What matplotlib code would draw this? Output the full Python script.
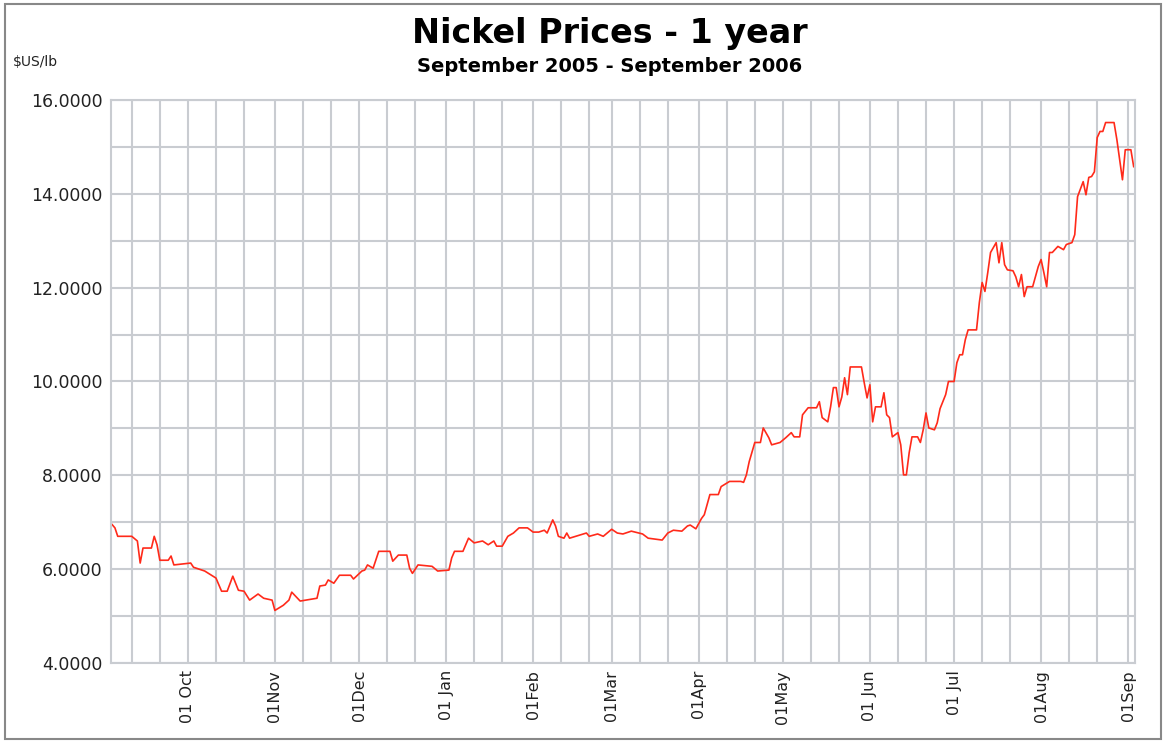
import matplotlib
matplotlib.use("Agg")
import matplotlib.pyplot as plt
import matplotlib.dates as mdates
import pandas as pd
from matplotlib.patches import Rectangle

# nickel price readings, $US/lb
dates = [
    "2005-09-04", "2005-09-05", "2005-09-06", "2005-09-11", "2005-09-13", "2005-09-14",
    "2005-09-15", "2005-09-18", "2005-09-19", "2005-09-20", "2005-09-21", "2005-09-24",
    "2005-09-25", "2005-09-26", "2005-10-02", "2005-10-03", "2005-10-07", "2005-10-11",
    "2005-10-13", "2005-10-15", "2005-10-17", "2005-10-19", "2005-10-21", "2005-10-23",
    "2005-10-26", "2005-10-28", "2005-10-31", "2005-11-01", "2005-11-04", "2005-11-06",
    "2005-11-07", "2005-11-10", "2005-11-16", "2005-11-17", "2005-11-19", "2005-11-20",
    "2005-11-22", "2005-11-24", "2005-11-28", "2005-11-29", "2005-12-02", "2005-12-03",
    "2005-12-04", "2005-12-06", "2005-12-08", "2005-12-12", "2005-12-13", "2005-12-15",
    "2005-12-18", "2005-12-19", "2005-12-20", "2005-12-22", "2005-12-27", "2005-12-29",
    "2006-01-02", "2006-01-03", "2006-01-04", "2006-01-07", "2006-01-09", "2006-01-11",
    "2006-01-14", "2006-01-16", "2006-01-18", "2006-01-19", "2006-01-21", "2006-01-23",
    "2006-01-25", "2006-01-27", "2006-01-30", "2006-02-01", "2006-02-03", "2006-02-05",
    "2006-02-06", "2006-02-08", "2006-02-09", "2006-02-10", "2006-02-12", "2006-02-13",
    "2006-02-14", "2006-02-20", "2006-02-21", "2006-02-24", "2006-02-26", "2006-03-01",
    "2006-03-03", "2006-03-05", "2006-03-08", "2006-03-12", "2006-03-14", "2006-03-19",
    "2006-03-21", "2006-03-23", "2006-03-26", "2006-03-28", "2006-03-29", "2006-03-31",
    "2006-04-02", "2006-04-03", "2006-04-05", "2006-04-08", "2006-04-09", "2006-04-12",
    "2006-04-16", "2006-04-17", "2006-04-18", "2006-04-19", "2006-04-21", "2006-04-23",
    "2006-04-24", "2006-04-26", "2006-04-27", "2006-04-30", "2006-05-02", "2006-05-04",
    "2006-05-05", "2006-05-07", "2006-05-08", "2006-05-10", "2006-05-13", "2006-05-14",
    "2006-05-15", "2006-05-17", "2006-05-18", "2006-05-19", "2006-05-20", "2006-05-21",
    "2006-05-22", "2006-05-23", "2006-05-24", "2006-05-25", "2006-05-29", "2006-05-30",
    "2006-05-31", "2006-06-01", "2006-06-02", "2006-06-03", "2006-06-05", "2006-06-06",
    "2006-06-07", "2006-06-08", "2006-06-09", "2006-06-11", "2006-06-12", "2006-06-13",
    "2006-06-14", "2006-06-15", "2006-06-16", "2006-06-18", "2006-06-19", "2006-06-20",
    "2006-06-21", "2006-06-22", "2006-06-24", "2006-06-25", "2006-06-26", "2006-06-28",
    "2006-06-29", "2006-07-01", "2006-07-02", "2006-07-03", "2006-07-04", "2006-07-05",
    "2006-07-06", "2006-07-09", "2006-07-10", "2006-07-11", "2006-07-12", "2006-07-13",
    "2006-07-14", "2006-07-16", "2006-07-17", "2006-07-18", "2006-07-19", "2006-07-20",
    "2006-07-22", "2006-07-23", "2006-07-24", "2006-07-25", "2006-07-26", "2006-07-27",
    "2006-07-29", "2006-07-31", "2006-08-01", "2006-08-02", "2006-08-03", "2006-08-04",
    "2006-08-05", "2006-08-07", "2006-08-09", "2006-08-10", "2006-08-12", "2006-08-13",
    "2006-08-14", "2006-08-16", "2006-08-17", "2006-08-18", "2006-08-19", "2006-08-20",
    "2006-08-21", "2006-08-22", "2006-08-23", "2006-08-24", "2006-08-27", "2006-08-28",
    "2006-08-29", "2006-08-30", "2006-08-31", "2006-09-02", "2006-09-03",
]
prices = [
    6.95, 6.88, 6.70, 6.70, 6.60, 6.13,
    6.45, 6.45, 6.70, 6.52, 6.19, 6.19,
    6.28, 6.09, 6.13, 6.04, 5.96, 5.81,
    5.53, 5.53, 5.85, 5.55, 5.53, 5.34,
    5.47, 5.38, 5.34, 5.12, 5.23, 5.34,
    5.51, 5.32, 5.38, 5.64, 5.66, 5.77,
    5.70, 5.87, 5.87, 5.79, 5.96, 5.98,
    6.09, 6.02, 6.38, 6.38, 6.17, 6.30,
    6.30, 6.02, 5.91, 6.09, 6.06, 5.96,
    5.98, 6.24, 6.38, 6.38, 6.66, 6.56,
    6.60, 6.52, 6.60, 6.49, 6.49, 6.70,
    6.77, 6.88, 6.88, 6.79, 6.79, 6.83,
    6.77, 7.05, 6.92, 6.70, 6.66, 6.77,
    6.66, 6.77, 6.70, 6.75, 6.70, 6.85,
    6.77, 6.75, 6.81, 6.75, 6.66, 6.62,
    6.77, 6.83, 6.81, 6.92, 6.94, 6.86,
    7.08, 7.16, 7.59, 7.59, 7.76, 7.87,
    7.87, 7.85, 8.01, 8.29, 8.70, 8.70,
    9.01, 8.80, 8.65, 8.70, 8.80, 8.91,
    8.82, 8.82, 9.29, 9.44, 9.44, 9.57,
    9.23, 9.14, 9.46, 9.87, 9.87, 9.46,
    9.67, 10.08, 9.72, 10.31, 10.31, 9.97,
    9.65, 9.93, 9.14, 9.46, 9.46, 9.76,
    9.29, 9.23, 8.82, 8.91, 8.65, 8.01,
    8.01, 8.48, 8.82, 8.82, 8.70, 8.97,
    9.33, 9.01, 8.97, 9.12, 9.42, 9.72,
    10.00, 10.00, 10.40, 10.57, 10.57, 10.89,
    11.10, 11.10, 11.68, 12.11, 11.92, 12.32,
    12.75, 12.96, 12.53, 12.96, 12.49, 12.38,
    12.36, 12.23, 12.02, 12.28, 11.81, 12.02,
    12.02, 12.45, 12.60, 12.32, 12.02, 12.75,
    12.75, 12.88, 12.81, 12.92, 12.96, 13.13,
    13.94, 14.26, 13.98, 14.35, 14.37, 14.47,
    15.20, 15.33, 15.33, 15.52, 15.52, 15.16,
    14.73, 14.30, 14.94, 14.94, 14.58,
]

y_ticks = [4, 6, 8, 10, 12, 14, 16]
month_ticks = ["2005-10-01", "2005-11-01", "2005-12-01", "2006-01-01", "2006-02-01",
               "2006-03-01", "2006-04-01", "2006-05-01", "2006-06-01", "2006-07-01",
               "2006-08-01", "2006-09-01"]
month_labels = ["01 Oct", "01Nov", "01Dec", "01 Jan", "01Feb", "01Mar", "01Apr",
                "01May", "01 Jun", "01 Jul", "01Aug", "01Sep"]

grid_col = "#c9ccd1"

fig = plt.figure(figsize=(11.63, 7.42), dpi=100)
ax = fig.add_axes([0.0954, 0.1065, 0.8806, 0.7587])

x = pd.to_datetime(dates)
ax.plot(x, prices, color="#ff2a1a", linewidth=1.2)

ax.set_xlim(pd.Timestamp("2005-09-03 14:00"), pd.Timestamp("2006-09-03 12:00"))
ax.set_ylim(4, 16)

ax.set_yticks(y_ticks)
ax.set_yticklabels(["%.4f" % v for v in y_ticks])
ax.set_yticks(range(5, 16, 2), minor=True)

ax.set_xticks(pd.to_datetime(month_ticks))
ax.set_xticklabels(month_labels, rotation=90)
ax.xaxis.set_minor_locator(mdates.DayLocator(bymonthday=[11, 21]))

ax.grid(True, which="both", color=grid_col, linewidth=1.5)
ax.set_axisbelow(True)
ax.tick_params(which="both", length=0)
ax.tick_params(axis="y", pad=6, labelsize=12.5, colors="#222222")
ax.tick_params(axis="x", pad=5, labelsize=11.5, colors="#222222")
for s in ax.spines.values():
    s.set_color(grid_col)
    s.set_linewidth(1.5)

fig.text(0.5245, 0.942, "Nickel Prices - 1 year", ha="center", va="baseline",
         fontsize=24, fontweight="bold")
fig.text(0.5245, 0.903, "September 2005 - September 2006", ha="center", va="baseline",
         fontsize=14, fontweight="bold")
fig.text(0.011, 0.917, "$US/lb", ha="left", va="center", fontsize=10, color="#222222")

fig.patches.append(Rectangle((0.004, 0.004), 0.994, 0.99, transform=fig.transFigure,
                             fill=False, edgecolor="#888888", linewidth=1.5))

fig.savefig("out.png", dpi=100)
